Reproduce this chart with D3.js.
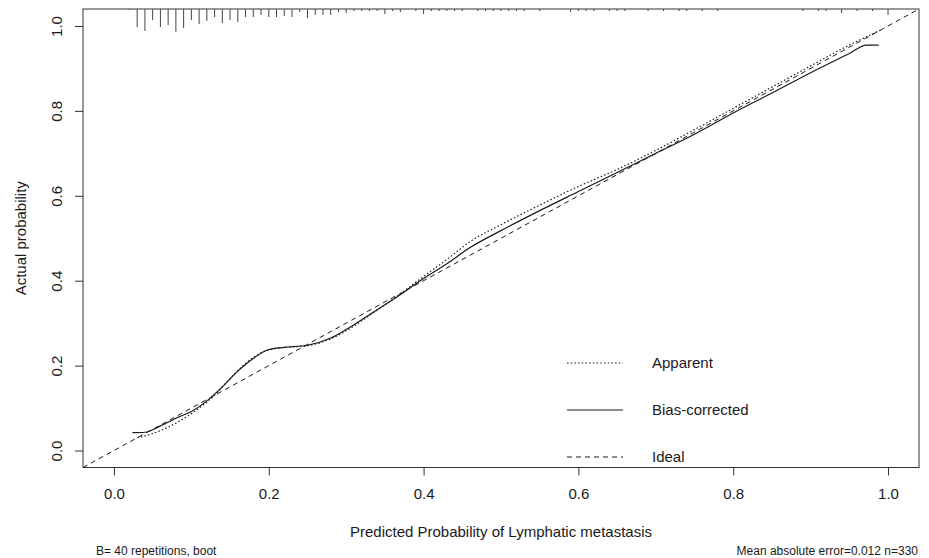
<!DOCTYPE html>
<html>
<head>
<meta charset="utf-8">
<script src="https://cdn.jsdelivr.net/npm/d3@7"></script>
<style>
  body { margin: 0; background: #fff; }
  svg { font-family: "Liberation Sans", Arial, sans-serif; }
</style>
</head>
<body>
<svg width="929" height="558"></svg>
<script>
// calibration curves (predicted, actual)
let apparentX = [0.03, 0.05, 0.07, 0.09, 0.11, 0.13, 0.15, 0.17, 0.19, 0.20, 0.22, 0.25, 0.28, 0.30, 0.33, 0.36, 0.40, 0.43, 0.46, 0.50, 0.55, 0.60, 0.65, 0.70, 0.75, 0.80, 0.85, 0.90, 0.95, 0.99];
let apparentY = [0.030, 0.040, 0.055, 0.075, 0.100, 0.130, 0.170, 0.205, 0.230, 0.237, 0.243, 0.247, 0.263, 0.282, 0.318, 0.356, 0.410, 0.450, 0.492, 0.532, 0.578, 0.622, 0.662, 0.707, 0.756, 0.806, 0.856, 0.906, 0.955, 0.990];

let biasX = [0.024, 0.04, 0.06, 0.085, 0.10, 0.12, 0.14, 0.16, 0.18, 0.20, 0.22, 0.25, 0.28, 0.30, 0.33, 0.36, 0.40, 0.43, 0.46, 0.50, 0.55, 0.60, 0.65, 0.70, 0.75, 0.80, 0.85, 0.90, 0.95, 0.972, 0.988];
let biasY = [0.042, 0.043, 0.058, 0.080, 0.092, 0.117, 0.150, 0.187, 0.217, 0.238, 0.243, 0.248, 0.265, 0.285, 0.320, 0.355, 0.405, 0.440, 0.478, 0.518, 0.565, 0.610, 0.655, 0.700, 0.745, 0.795, 0.842, 0.890, 0.935, 0.955, 0.955];

// distribution of predicted risk (top rug)
let rugX = [0.02, 0.03, 0.04, 0.05, 0.06, 0.07, 0.08, 0.09, 0.10, 0.11, 0.12, 0.13, 0.14, 0.15, 0.16, 0.17, 0.18, 0.19, 0.20, 0.21, 0.22, 0.23, 0.24, 0.25, 0.26, 0.27, 0.28, 0.29, 0.30, 0.31, 0.32, 0.33, 0.34, 0.35, 0.36, 0.37, 0.39, 0.40, 0.41, 0.42, 0.43, 0.44, 0.45, 0.47, 0.48, 0.49,
            0.50, 0.51, 0.52, 0.53, 0.55, 0.59, 0.60, 0.61, 0.62, 0.64, 0.65, 0.66, 0.69, 0.71, 0.73, 0.74, 0.76, 0.78, 0.89, 0.91, 0.92, 0.94, 0.96, 0.98, 1.00];
let rugN = [1, 18, 22, 11, 18, 16, 23, 19, 11, 15, 12, 8, 14, 11, 13, 8, 8, 6, 8, 8, 7, 8, 3, 9, 6, 6, 6, 3, 4, 2, 2, 2, 2, 5, 2, 3, 2, 5, 2, 2, 2, 2, 2, 2, 2, 2,
            2, 2, 2, 2, 2, 3, 2, 2, 2, 2, 2, 2, 2, 2, 2, 2, 2, 2, 2, 2, 2, 4, 2, 2, 6];

let xTicks = [0.0, 0.2, 0.4, 0.6, 0.8, 1.0];
let yTicks = [0.0, 0.2, 0.4, 0.6, 0.8, 1.0];

let legendLabels = ["Apparent", "Bias-corrected", "Ideal"];

let svg = d3.select("svg");
let plotL = 83, plotR = 919, plotT = 9, plotB = 467.5;

let x = d3.scaleLinear().domain([-0.04, 1.04]).range([plotL, plotR]);
let y = d3.scaleLinear().domain([-0.04, 1.04]).range([plotB, plotT]);

let ink = "#1a1a1a";

svg.append("defs").append("clipPath").attr("id", "plotClip")
    .append("rect")
    .attr("x", plotL).attr("y", plotT)
    .attr("width", plotR - plotL).attr("height", plotB - plotT);

// axes
let xAxis = svg.append("g")
    .attr("transform", "translate(0," + plotB + ")")
    .call(d3.axisBottom(x).tickValues(xTicks).tickFormat(d3.format(".1f")).tickSize(8).tickPadding(13));
xAxis.select(".domain").remove();
xAxis.selectAll("text").style("font-size", "15px").attr("fill", ink);
xAxis.selectAll("line").attr("stroke", "#333");

let yAxis = svg.append("g")
    .attr("transform", "translate(" + plotL + ",0)")
    .call(d3.axisLeft(y).tickValues(yTicks).tickFormat(d3.format(".1f")).tickSize(8));
yAxis.select(".domain").remove();
yAxis.selectAll("line").attr("stroke", "#333");
yAxis.selectAll("text")
    .style("font-size", "15px")
    .attr("fill", ink)
    .attr("x", null).attr("dy", null)
    .attr("text-anchor", "middle")
    .attr("transform", "translate(-21,0) rotate(-90)");

// box
svg.append("rect")
    .attr("x", plotL).attr("y", plotT)
    .attr("width", plotR - plotL).attr("height", plotB - plotT)
    .attr("fill", "none").attr("stroke", "#333").attr("stroke-width", 1);

let plot = svg.append("g").attr("clip-path", "url(#plotClip)");

// rug of predicted probabilities along the top
let rugLen = d3.scaleLinear().domain([0, d3.max(rugN)]).range([0, 23]);
plot.selectAll(".rug")
    .data(rugX)
    .enter()
    .append("line")
    .attr("x1", function (d) { return x(d); })
    .attr("x2", function (d) { return x(d); })
    .attr("y1", plotT)
    .attr("y2", function (d, i) { return plotT + rugLen(rugN[i]); })
    .attr("stroke", "#444")
    .attr("stroke-width", 1);

// ideal line across the whole box
let dom = x.domain();
plot.append("line")
    .attr("x1", x(dom[0])).attr("y1", y(dom[0]))
    .attr("x2", x(dom[1])).attr("y2", y(dom[1]))
    .attr("stroke", ink).attr("stroke-width", 1)
    .attr("stroke-dasharray", "5,4");

let line = d3.line()
    .x(function (d) { return x(d[0]); })
    .y(function (d) { return y(d[1]); })
    .curve(d3.curveMonotoneX);

plot.append("path")
    .attr("d", line(d3.zip(apparentX, apparentY)))
    .attr("fill", "none").attr("stroke", ink).attr("stroke-width", 1.2)
    .attr("stroke-dasharray", "1.5,2.2");

plot.append("path")
    .attr("d", line(d3.zip(biasX, biasY)))
    .attr("fill", "none").attr("stroke", ink).attr("stroke-width", 1.2);

// legend
let dashes = ["1.5,2.2", null, "5,4"];
let legY = [363, 410, 457];
let legend = svg.append("g");
legendLabels.forEach(function (lab, i) {
    legend.append("line")
        .attr("x1", 567).attr("x2", 623)
        .attr("y1", legY[i]).attr("y2", legY[i])
        .attr("stroke", ink).attr("stroke-width", 1.2)
        .attr("stroke-dasharray", dashes[i]);
    legend.append("text")
        .attr("x", 652).attr("y", legY[i]).attr("dy", "0.35em")
        .style("font-size", "15px").attr("fill", ink)
        .text(lab);
});

// titles and notes
svg.append("text")
    .attr("x", (plotL + plotR) / 2).attr("y", 537)
    .attr("text-anchor", "middle")
    .style("font-size", "15px").attr("fill", ink)
    .text("Predicted Probability of Lymphatic metastasis");

svg.append("text")
    .attr("transform", "translate(26," + (plotT + plotB) / 2 + ") rotate(-90)")
    .attr("text-anchor", "middle")
    .style("font-size", "15px").attr("fill", ink)
    .text("Actual probability");

svg.append("text")
    .attr("x", 96).attr("y", 555)
    .style("font-size", "12px").attr("fill", ink)
    .text("B= 40 repetitions, boot");

svg.append("text")
    .attr("x", 918).attr("y", 555)
    .attr("text-anchor", "end")
    .style("font-size", "12px").attr("fill", ink)
    .text("Mean absolute error=0.012 n=330");
</script>
</body>
</html>
